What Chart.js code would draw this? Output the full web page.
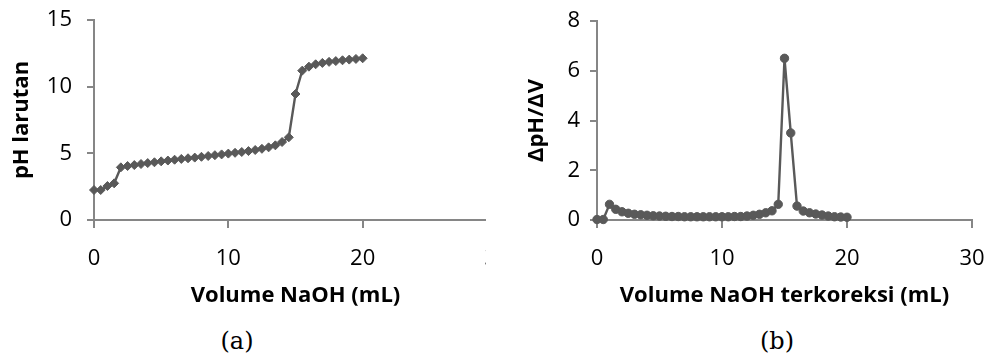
<!DOCTYPE html>
<html><head><meta charset="utf-8">
<script src="https://cdn.jsdelivr.net/npm/chart.js@4/dist/chart.umd.min.js"></script>
<style>
html,body{margin:0;padding:0;background:#fff;width:987px;height:357px;overflow:hidden;position:relative;}
#wa{position:absolute;left:0;top:0;width:486px;height:310px;overflow:hidden;}
#wb{position:absolute;left:490px;top:0;width:497px;height:310px;}
.cap{position:absolute;top:326px;width:80px;text-align:center;font-family:'DejaVu Serif',serif;font-size:24px;line-height:30px;color:#000;}
</style>
</head><body>
<div id="wa"><canvas id="ca" width="510" height="310"></canvas></div>
<div id="wb"><canvas id="cb" width="497" height="310"></canvas></div>
<div class="cap" style="left:197px">(a)</div>
<div class="cap" style="left:737px">(b)</div>
<script>
// ---- data ----
const volA = [0,0.5,1,1.5,2,2.5,3,3.5,4,4.5,5,5.5,6,6.5,7,7.5,8,8.5,9,9.5,10,10.5,11,11.5,12,12.5,13,13.5,14,14.5,15,15.5,16,16.5,17,17.5,18,18.5,19,19.5,20];
const phA = [2.25,2.25,2.55,2.75,3.95,4.05,4.12,4.2,4.27,4.33,4.4,4.46,4.52,4.58,4.63,4.68,4.74,4.8,4.86,4.92,4.98,5.04,5.1,5.17,5.25,5.34,5.45,5.6,5.85,6.2,9.45,11.2,11.5,11.68,11.78,11.86,11.92,11.98,12.03,12.08,12.13];
const volB = [0,0.5,1,1.5,2,2.5,3,3.5,4,4.5,5,5.5,6,6.5,7,7.5,8,8.5,9,9.5,10,10.5,11,11.5,12,12.5,13,13.5,14,14.5,15,15.5,16,16.5,17,17.5,18,18.5,19,19.5,20];
const dphB = [0.02,0.02,0.63,0.43,0.33,0.27,0.23,0.21,0.19,0.17,0.16,0.15,0.14,0.14,0.13,0.13,0.13,0.13,0.13,0.13,0.13,0.13,0.14,0.14,0.16,0.19,0.23,0.29,0.37,0.63,6.5,3.5,0.56,0.36,0.29,0.24,0.2,0.16,0.13,0.12,0.11];
const xTicks = [0,10,20,30];
const yTicksA = [0,5,10,15];
const yTicksB = [0,2,4,6,8];
const xTitleA = 'Volume NaOH (mL)';
const yTitleA = 'pH larutan';
const xTitleB = 'Volume NaOH terkoreksi (mL)';
const yTitleB = '\u0394pH/\u0394V';

// ---- styles ----
const AX = '#868686';
const LC = '#595959';
const FONT = "'Open Sans', sans-serif";
const tickFont = {family: FONT, size: 22};
const titleFont = {family: FONT, size: 22, weight: 'bold'};

function zeroPad(s) { s.paddingTop = 0; s.paddingBottom = 0; s.paddingLeft = 0; s.paddingRight = 0; }

function mk(id, xs, ys, yTicks, ymax, xTitle, yTitle, shape, ypadL, yW, ytickPad, padR, padT) {
  const pts = xs.map((x, i) => ({x: x, y: ys[i]}));
  return new Chart(document.getElementById(id), {
    type: 'scatter',
    data: {datasets: [{
      data: pts, showLine: true, borderColor: LC, backgroundColor: LC, borderWidth: 2.4,
      pointStyle: shape, pointRadius: shape === 'rectRot' ? 4.5 : 4.2, pointBorderWidth: 1,
      pointBorderColor: LC, pointBackgroundColor: LC, clip: false, tension: 0
    }]},
    options: {
      responsive: false, animation: false, devicePixelRatio: 1,
      layout: {padding: {left: 0, top: padT, right: padR, bottom: 0}},
      plugins: {legend: {display: false}, tooltip: {enabled: false}},
      scales: {
        x: {
          type: 'linear', min: 0, max: 30,
          afterBuildTicks: s => { s.ticks = xTicks.map(v => ({value: v})); },
          afterFit: s => { s.height = 90; zeroPad(s); },
          ticks: {color: '#000', font: tickFont, padding: 18, maxRotation: 0},
          grid: {drawOnChartArea: false, tickLength: 8, color: AX, lineWidth: 2},
          border: {color: AX, width: 2},
          title: {display: true, text: xTitle, color: '#000', font: titleFont, padding: {top: 0, bottom: 1.3}}
        },
        y: {
          type: 'linear', min: 0, max: ymax,
          afterBuildTicks: s => { s.ticks = yTicks.map(v => ({value: v})); },
          afterFit: s => { s.width = yW; zeroPad(s); },
          ticks: {color: '#000', font: tickFont, padding: ytickPad},
          grid: {drawOnChartArea: false, tickLength: 7, color: AX, lineWidth: 2},
          border: {color: AX, width: 2},
          title: {display: true, text: yTitle, color: '#000', font: titleFont, padding: {top: ypadL, bottom: 0}}
        }
      }
    }
  });
}
mk('ca', volA, phA, yTicksA, 15, xTitleA, yTitleA, 'rectRot', 9, 94, 15, 13, 20);
mk('cb', volB, dphB, yTicksB, 8, xTitleB, yTitleB, 'circle', 34, 107, 10, 15, 21);
</script>
</body></html>
